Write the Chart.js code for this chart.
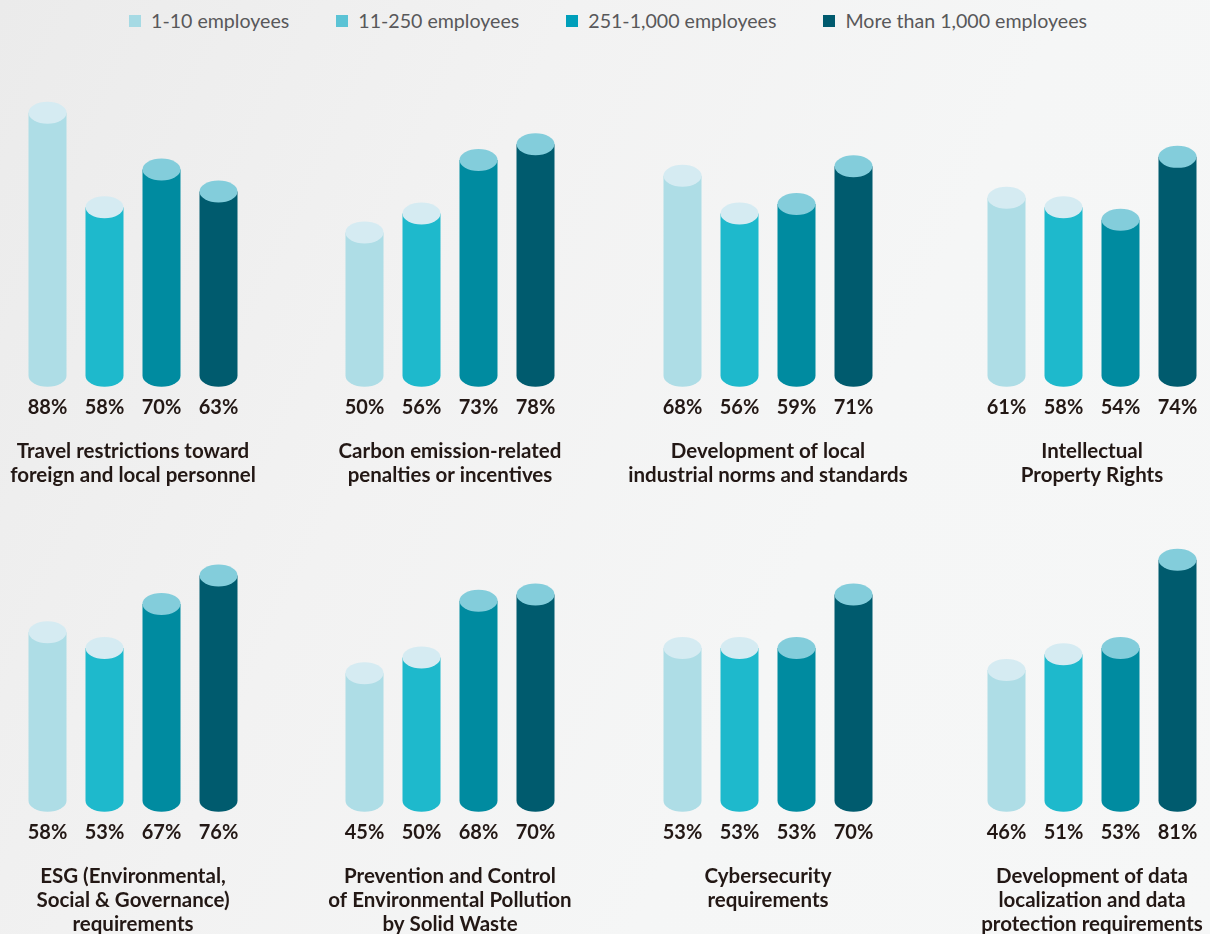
<!DOCTYPE html>
<html lang="en">
  <head>
    <meta charset="UTF-8" />
    <meta name="viewport" content="width=device-width, initial-scale=1.0" />
    <script src="https://cdn.jsdelivr.net/npm/chart.js"></script>
    <title>Regulatory concerns by company size</title>
    <style>
      html, body { margin: 0; height: 100%; }
      body {
        width: 1210px; height: 934px; overflow: hidden; position: relative;
        background: linear-gradient(115deg, #ebebeb 0%, #f2f2f2 35%, #f5f6f6 65%, #f6f7f7 100%);
        font-family: Lato, "Noto Sans", sans-serif;
      }
      #legend {
        position: absolute; top: 9px; left: 3px; width: 1210px;
        display: flex; justify-content: center; gap: 47px;
        font-size: 19.6px; color: #58585a;
      }
      #legend span { display: inline-flex; align-items: center; }
      #legend i { display: inline-block; width: 12px; height: 12px; margin-right: 10px; }
      canvas { position: absolute; }
    </style>
  </head>
  <body>
    <div id="legend"></div>
    <script lang="js">
      const sizes = ['1-10 employees', '11-250 employees', '251-1,000 employees', 'More than 1,000 employees'];
      const legendColors = ['#a6dae4', '#5bc3d5', '#009fba', '#005a6e'];
      const bodyColors = ['#aedde6', '#1eb9cc', '#008ba0', '#005b6e'];
      const capColors = ['#d5ebf2', '#d5ebf2', '#83cddb', '#83cddb'];

      const topics = [
        ['Travel restrictions toward', 'foreign and local personnel'],
        ['Carbon emission-related', 'penalties or incentives'],
        ['Development of local', 'industrial norms and standards'],
        ['Intellectual', 'Property Rights'],
        ['ESG (Environmental,', 'Social & Governance)', 'requirements'],
        ['Prevention and Control', 'of Environmental Pollution', 'by Solid Waste'],
        ['Cybersecurity', 'requirements'],
        ['Development of data', 'localization and data', 'protection requirements']
      ];

      // share of respondents (%) per topic, one array per company size
      const small = [88, 50, 68, 61, 58, 45, 53, 46];
      const medium = [58, 56, 56, 58, 53, 50, 53, 51];
      const large = [70, 73, 59, 54, 67, 68, 53, 53];
      const xlarge = [63, 78, 71, 74, 76, 70, 70, 81];

      const colLeft = [-17.5, 299.5, 617.5, 941.5];
      const rowTop = [45, 470];

      const legend = document.getElementById('legend');
      sizes.forEach((s, i) => {
        legend.innerHTML += `<span><i style="background:${legendColors[i]}"></i>${s}</span>`;
      });

      // draws each bar as a cylinder: body with rounded bottom and an elliptical top cap
      const cylinders = {
        id: 'cylinders',
        beforeDatasetDraw(chart, args) {
          const ctx = chart.ctx;
          const lift = 14;
          const ry = 11;
          args.meta.data.forEach((el, i) => {
            const { x, y, base, width } = el.getProps(['x', 'y', 'base', 'width'], true);
            const rx = width / 2;
            const bottom = base - lift;
            ctx.save();
            ctx.fillStyle = el.options.backgroundColor;
            ctx.beginPath();
            ctx.moveTo(x - rx, y);
            ctx.lineTo(x - rx, bottom);
            ctx.ellipse(x, bottom, rx, ry, 0, Math.PI, 0, true);
            ctx.lineTo(x + rx, y);
            ctx.closePath();
            ctx.fill();
            ctx.fillStyle = capColors[i];
            ctx.beginPath();
            ctx.ellipse(x, y, rx, ry, 0, 0, Math.PI * 2);
            ctx.fill();
            ctx.restore();
          });
          return false;
        }
      };

      // empty side axes that only reserve a fixed margin, so the title keeps the full width
      const sideAxis = (position) => ({
        position,
        min: 0,
        max: 100,
        ticks: { display: false },
        grid: { display: false, drawTicks: false },
        border: { display: false },
        afterFit: (scale) => { scale.width = 36; }
      });

      topics.forEach((title, t) => {
        const canvas = document.createElement('canvas');
        canvas.width = 300;
        canvas.height = 470;
        canvas.style.left = colLeft[t % 4] + 'px';
        canvas.style.top = rowTop[Math.floor(t / 4)] + 'px';
        document.body.appendChild(canvas);

        const values = [small[t], medium[t], large[t], xlarge[t]];
        const lines = title.slice();
        while (lines.length < 3) lines.push('');

        new Chart(canvas, {
          type: 'bar',
          data: {
            labels: sizes,
            datasets: [{
              data: values,
              backgroundColor: bodyColors,
              barPercentage: 1,
              categoryPercentage: 2 / 3
            }]
          },
          options: {
            responsive: false,
            animation: false,
            layout: { padding: { top: 30, bottom: 3.2, left: 0, right: 0 } },
            plugins: {
              legend: { display: false },
              tooltip: { enabled: false },
              title: {
                display: true,
                position: 'bottom',
                text: lines,
                color: '#231815',
                font: { family: 'Lato', size: 20.5, weight: 'bold', lineHeight: 24 / 20.5 },
                padding: { top: 14, bottom: 0 }
              }
            },
            scales: {
              x: {
                grid: { display: false, drawTicks: false },
                border: { display: false },
                ticks: {
                  padding: 6,
                  color: '#231815',
                  font: { family: 'Lato', size: 20, weight: 'bold' },
                  callback: (v, i) => values[i] + '%'
                }
              },
              y: sideAxis('left'),
              yRight: sideAxis('right')
            }
          },
          plugins: [cylinders]
        });
      });
    </script>
  </body>
</html>
